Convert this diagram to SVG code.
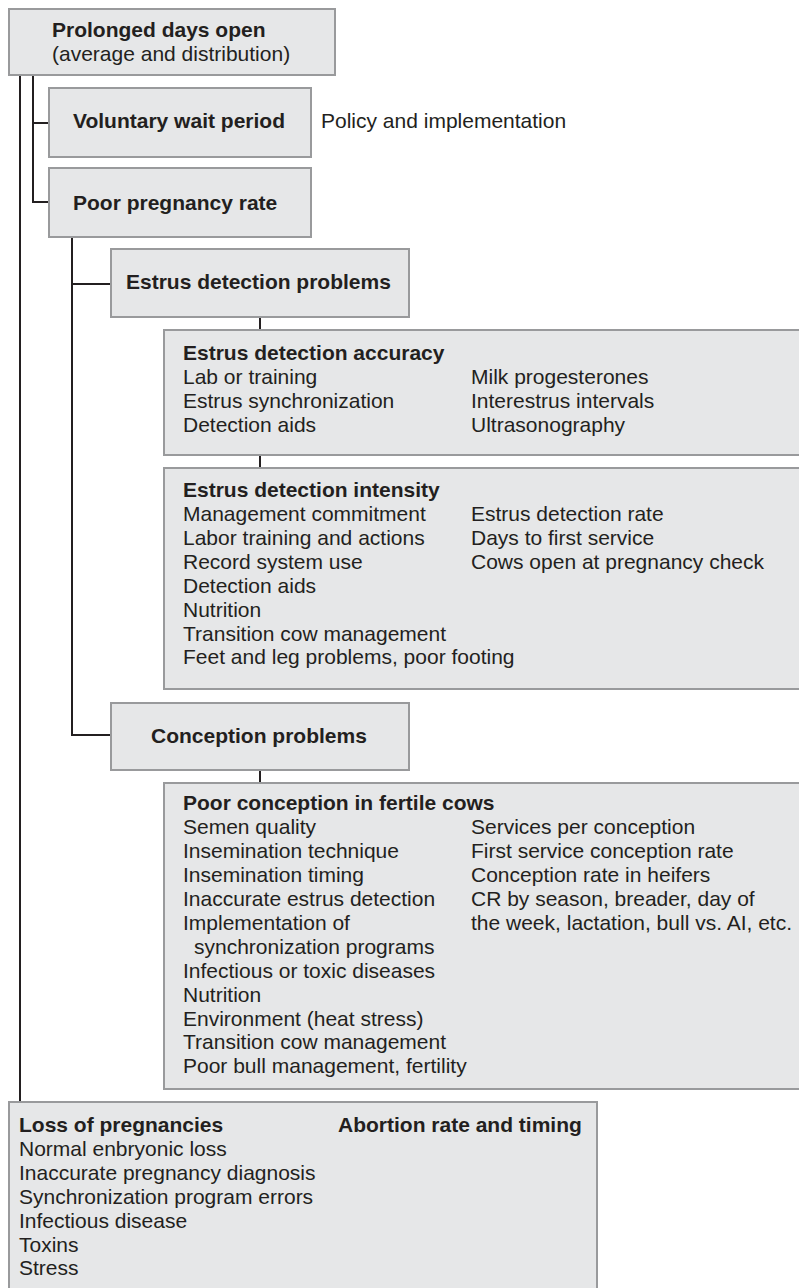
<svg xmlns="http://www.w3.org/2000/svg" width="799" height="1288" viewBox="0 0 799 1288">
<style>
.box{fill:#e6e7e8;stroke:#999a9c;stroke-width:2}
.con{fill:none;stroke:#231f20;stroke-width:2}
text{font-family:"Liberation Sans",Arial,Helvetica,sans-serif;font-size:21px;fill:#231f20}
.b{font-weight:bold}
</style>
<rect x="0" y="0" width="799" height="1288" fill="#ffffff"/>
<g id="connectors">
<path class="con" d="M20,75 V1102"/>
<path class="con" d="M33,75 V202 H49"/>
<path class="con" d="M33,123 H49"/>
<path class="con" d="M72,237 V735 H111"/>
<path class="con" d="M72,284 H111"/>
<path class="con" d="M260,317 V330"/>
<path class="con" d="M260,455 V468"/>
<path class="con" d="M260,770 V783"/>
</g>
<g id="n-days-open">
<rect class="box" x="9" y="9" width="326" height="66"/>
<text class="b" x="52" y="37">Prolonged days open</text>
<text x="52" y="61">(average and distribution)</text>
</g>
<g id="n-vwp">
<rect class="box" x="49" y="88" width="262" height="69"/>
<text class="b" x="73" y="128">Voluntary wait period</text>
</g>
<g id="n-policy">
<text x="321" y="128">Policy and implementation</text>
</g>
<g id="n-preg-rate">
<rect class="box" x="49" y="168" width="262" height="69"/>
<text class="b" x="73" y="210">Poor pregnancy rate</text>
</g>
<g id="n-estrus-problems">
<rect class="box" x="111" y="249" width="298" height="68"/>
<text class="b" x="126" y="289">Estrus detection problems</text>
</g>
<g id="n-accuracy">
<rect class="box" x="164" y="330" width="660" height="125"/>
<text class="b" x="183" y="360">Estrus detection accuracy</text>
<text x="183" y="384">Lab or training</text>
<text x="183" y="408">Estrus synchronization</text>
<text x="183" y="432">Detection aids</text>
<text x="471" y="384">Milk progesterones</text>
<text x="471" y="408">Interestrus intervals</text>
<text x="471" y="432">Ultrasonography</text>
</g>
<g id="n-intensity">
<rect class="box" x="164" y="468" width="660" height="221"/>
<text class="b" x="183" y="497">Estrus detection intensity</text>
<text x="183" y="521">Management commitment</text>
<text x="183" y="545">Labor training and actions</text>
<text x="183" y="569">Record system use</text>
<text x="183" y="593">Detection aids</text>
<text x="183" y="617">Nutrition</text>
<text x="183" y="641">Transition cow management</text>
<text x="183" y="664">Feet and leg problems, poor footing</text>
<text x="471" y="521">Estrus detection rate</text>
<text x="471" y="545">Days to first service</text>
<text x="471" y="569">Cows open at pregnancy check</text>
</g>
<g id="n-conception-problems">
<rect class="box" x="111" y="703" width="298" height="67"/>
<text class="b" x="151" y="743">Conception problems</text>
</g>
<g id="n-poor-conception">
<rect class="box" x="164" y="783" width="660" height="306"/>
<text class="b" x="183" y="810">Poor conception in fertile cows</text>
<text x="183" y="834">Semen quality</text>
<text x="183" y="858">Insemination technique</text>
<text x="183" y="882">Insemination timing</text>
<text x="183" y="906">Inaccurate estrus detection</text>
<text x="183" y="930">Implementation of</text>
<text x="194" y="954">synchronization programs</text>
<text x="183" y="978">Infectious or toxic diseases</text>
<text x="183" y="1002">Nutrition</text>
<text x="183" y="1026">Environment (heat stress)</text>
<text x="183" y="1049">Transition cow management</text>
<text x="183" y="1073">Poor bull management, fertility</text>
<text x="471" y="834">Services per conception</text>
<text x="471" y="858">First service conception rate</text>
<text x="471" y="882">Conception rate in heifers</text>
<text x="471" y="906">CR by season, breader, day of</text>
<text x="471" y="930">the week, lactation, bull vs. AI, etc.</text>
</g>
<g id="n-loss">
<rect class="box" x="9" y="1102" width="588" height="200"/>
<text class="b" x="19" y="1132">Loss of pregnancies</text>
<text x="19" y="1156">Normal enbryonic loss</text>
<text x="19" y="1180">Inaccurate pregnancy diagnosis</text>
<text x="19" y="1204">Synchronization program errors</text>
<text x="19" y="1228">Infectious disease</text>
<text x="19" y="1252">Toxins</text>
<text x="19" y="1275">Stress</text>
<text class="b" x="338" y="1132">Abortion rate and timing</text>
</g>
</svg>
